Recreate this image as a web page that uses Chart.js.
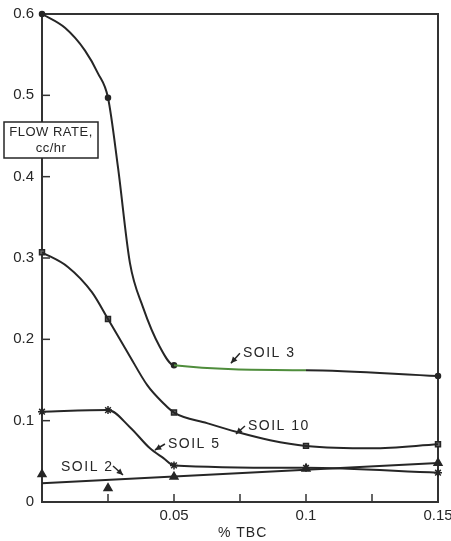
<!DOCTYPE html>
<html>
<head>
<meta charset="utf-8">
<script src="https://cdn.jsdelivr.net/npm/chart.js@4.4.1/dist/chart.umd.min.js"></script>
<style>
  html, body { margin: 0; padding: 0; background: #fff; }
  #wrap { width: 451px; height: 541px; }
</style>
</head>
<body>
<div id="wrap"><canvas id="flowChart" width="451" height="541"></canvas></div>
<script>
// Flow rate (cc/hr) against % TBC for four soils
const xTicks = [0, 0.025, 0.05, 0.075, 0.1, 0.125, 0.15];
const xTickLabels = ['', '', '0.05', '', '0.1', '', '0.15'];
const yTicks = [0, 0.1, 0.2, 0.3, 0.4, 0.5, 0.6];
const yTickLabels = ['0', '0.1', '0.2', '0.3', '0.4', '0.5', '0.6'];

// measured points (markers)
const tbc = [0, 0.025, 0.05, 0.1, 0.15];
const soil3Pts = [0.6, 0.497, 0.168, null, 0.155];
const soil10Pts = [0.307, 0.225, 0.110, 0.069, 0.071];
const soil5Pts = [0.111, 0.113, 0.045, 0.042, 0.036];
const soil2Pts = [0.034, 0.017, 0.031, 0.041, 0.048];

// hand-drawn curves through the points
const soil3CurveX = [0, 0.0087, 0.0163, 0.0212, 0.025, 0.0288, 0.0333, 0.0382, 0.0446, 0.05, 0.1, 0.15];
const soil3CurveY = [0.6, 0.583, 0.555, 0.527, 0.497, 0.411, 0.294, 0.240, 0.191, 0.168, 0.162, 0.155];
const soil10CurveX = [0, 0.0098, 0.0189, 0.025, 0.0326, 0.04, 0.0458, 0.05, 0.0625, 0.0739, 0.0864, 0.1, 0.125, 0.15];
const soil10CurveY = [0.307, 0.289, 0.258, 0.225, 0.183, 0.143, 0.122, 0.110, 0.097, 0.086, 0.076, 0.069, 0.066, 0.071];
const soil5CurveX = [0, 0.025, 0.0333, 0.0409, 0.046, 0.05, 0.1, 0.15];
const soil5CurveY = [0.111, 0.113, 0.092, 0.066, 0.054, 0.045, 0.042, 0.036];
const soil2LineX = [0, 0.15];
const soil2LineY = [0.023, 0.048];

const FONT = '"Liberation Sans", Arial, sans-serif';
const INK = '#262626';

const zip = (xs, ys) => xs.map((x, i) => ({ x: x, y: ys[i] })).filter(p => p.y !== null);

function curve(xs, ys, segColor) {
    return {
        data: zip(xs, ys),
        borderColor: INK,
        borderWidth: 2,
        pointRadius: 0,
        cubicInterpolationMode: 'monotone',
        clip: false,
        segment: segColor ? { borderColor: segColor } : undefined
    };
}

function markers(ys, style, radius, fill) {
    return {
        data: zip(tbc, ys),
        showLine: false,
        pointStyle: style,
        pointRadius: radius,
        pointBackgroundColor: fill,
        pointBorderColor: INK,
        pointBorderWidth: 1.5,
        clip: false
    };
}

// labels with small arrows pointing at their curves
const callouts = [
    { text: 'SOIL 3', x: 0.0761, y: 0.183, from: [-3, 0], to: [-12, 10] },
    { text: 'SOIL 10', x: 0.078, y: 0.0934, from: [-3, 0], to: [-12, 8] },
    { text: 'SOIL 5', x: 0.0477, y: 0.0713, from: [-3, 0], to: [-13, 6] },
    { text: 'SOIL 2', x: 0.0072, y: 0.043, from: [52, -1], to: [62, 8] }
];

function arrow(ctx, x0, y0, x1, y1) {
    const a = Math.atan2(y1 - y0, x1 - x0);
    ctx.beginPath();
    ctx.moveTo(x0, y0);
    ctx.lineTo(x1, y1);
    ctx.stroke();
    ctx.beginPath();
    ctx.moveTo(x1, y1);
    ctx.lineTo(x1 - 7 * Math.cos(a - 0.45), y1 - 7 * Math.sin(a - 0.45));
    ctx.lineTo(x1 - 7 * Math.cos(a + 0.45), y1 - 7 * Math.sin(a + 0.45));
    ctx.closePath();
    ctx.fill();
}

const framePlugin = {
    id: 'frame',
    beforeDatasetsDraw(chart) {
        const { ctx, chartArea: a, scales } = chart;
        ctx.save();
        ctx.strokeStyle = '#333';
        ctx.lineWidth = 2;
        ctx.strokeRect(a.left, a.top, a.right - a.left, a.bottom - a.top);
        // inward tick marks
        ctx.lineWidth = 1.5;
        xTicks.slice(1, -1).forEach(v => {
            const px = scales.x.getPixelForValue(v);
            ctx.beginPath();
            ctx.moveTo(px, a.bottom);
            ctx.lineTo(px, a.bottom - 8);
            ctx.stroke();
        });
        yTicks.slice(1, -1).forEach(v => {
            const py = scales.y.getPixelForValue(v);
            ctx.beginPath();
            ctx.moveTo(a.left, py);
            ctx.lineTo(a.left + 8, py);
            ctx.stroke();
        });
        ctx.restore();
    },
    afterDraw(chart) {
        const { ctx, chartArea: a, scales } = chart;
        ctx.save();
        ctx.fillStyle = INK;
        ctx.strokeStyle = INK;
        ctx.lineWidth = 1.5;

        // axis titles
        ctx.font = '14px ' + FONT;
        ctx.textAlign = 'center';
        ctx.textBaseline = 'middle';
        ctx.letterSpacing = '1px';
        ctx.fillText('% TBC', scales.x.getPixelForValue(0.076), a.bottom + 31);

        ctx.fillStyle = '#fff';
        ctx.fillRect(4, 122, 94, 36);
        ctx.strokeRect(4, 122, 94, 36);
        ctx.fillStyle = INK;
        ctx.font = '13px ' + FONT;
        ctx.letterSpacing = '0.5px';
        ctx.fillText('FLOW RATE,', 51, 132);
        ctx.fillText('cc/hr', 51, 148);

        // curve callouts
        ctx.font = '14px ' + FONT;
        ctx.letterSpacing = '1.5px';
        ctx.textAlign = 'left';
        callouts.forEach(c => {
            const px = scales.x.getPixelForValue(c.x);
            const py = scales.y.getPixelForValue(c.y);
            ctx.fillText(c.text, px, py);
            arrow(ctx, px + c.from[0], py + c.from[1], px + c.to[0], py + c.to[1]);
        });
        ctx.restore();
    }
};

new Chart(document.getElementById('flowChart'), {
    type: 'line',
    data: {
        datasets: [
            curve(soil3CurveX, soil3CurveY, ctx => (ctx.p0.parsed.x >= 0.05 && ctx.p1.parsed.x <= 0.1 ? '#4f8d3c' : INK)),
            curve(soil10CurveX, soil10CurveY),
            curve(soil5CurveX, soil5CurveY),
            curve(soil2LineX, soil2LineY),
            markers(soil3Pts, 'circle', 2.5, INK),
            markers(soil10Pts, 'rect', 3.5, '#666'),
            markers(soil5Pts, 'star', 4, INK),
            markers(soil2Pts, 'triangle', 4.5, INK)
        ]
    },
    options: {
        responsive: false,
        animation: false,
        events: [],
        layout: { padding: { top: 14, right: 13, left: 0, bottom: 0 } },
        plugins: { legend: { display: false }, tooltip: { enabled: false } },
        scales: {
            x: {
                type: 'linear',
                min: 0,
                max: 0.15,
                grid: { display: false, drawTicks: false },
                border: { display: false },
                afterBuildTicks: s => { s.ticks = xTicks.map(v => ({ value: v })); },
                afterFit: s => { s.height = 39; s.paddingLeft = 0; s.paddingRight = 0; },
                ticks: {
                    padding: 5,
                    maxRotation: 0,
                    autoSkip: false,
                    color: INK,
                    font: { family: FONT, size: 15 },
                    callback: (v, i) => xTickLabels[i]
                }
            },
            y: {
                type: 'linear',
                min: 0,
                max: 0.6,
                grid: { display: false, drawTicks: false },
                border: { display: false },
                afterBuildTicks: s => { s.ticks = yTicks.map(v => ({ value: v })); },
                afterFit: s => { s.width = 42; s.paddingTop = 0; s.paddingBottom = 0; },
                ticks: {
                    padding: 8,
                    autoSkip: false,
                    color: INK,
                    font: { family: FONT, size: 15 },
                    callback: (v, i) => yTickLabels[i]
                }
            }
        }
    },
    plugins: [framePlugin]
});
</script>
</body>
</html>
